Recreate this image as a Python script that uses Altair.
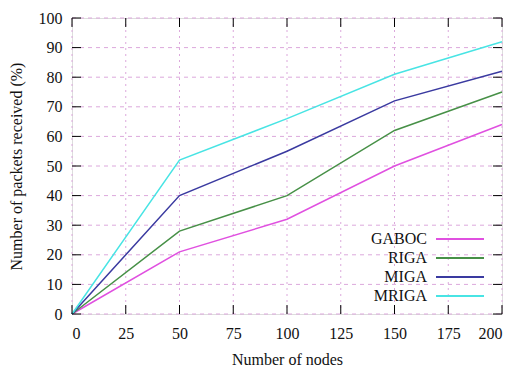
import altair as alt
import pandas as pd

nodes = [0, 50, 100, 150, 200]
gaboc = [0, 21, 32, 50, 64]
riga = [0, 28, 40, 62, 75]
miga = [0, 40, 55, 72, 82]
mriga = [0, 52, 66, 81, 92]
series = ["GABOC", "RIGA", "MIGA", "MRIGA"]
colors = ["#e050e0", "#479047", "#3a3aa0", "#48e4e4"]
x_ticks = [0, 25, 50, 75, 100, 125, 150, 175, 200]
y_ticks = [0, 10, 20, 30, 40, 50, 60, 70, 80, 90, 100]

rows = []
for name, vals in zip(series, [gaboc, riga, miga, mriga]):
    for n, v in zip(nodes, vals):
        rows.append({"nodes": n, "value": v, "series": name})
df = pd.DataFrame(rows)
xt = pd.DataFrame({"nodes": x_ticks})
yt = pd.DataFrame({"value": y_ticks})

FONT = "Liberation Serif"
W, H, TL = 430, 296, 9
color = alt.Color("series:N", scale=alt.Scale(domain=series, range=colors), legend=None)
xscale = alt.Scale(domain=[0, 200], nice=False)
yscale = alt.Scale(domain=[0, 100], nice=False)

txt = dict(labelFont=FONT, labelFontSize=16, labelColor="#111",
           titleFont=FONT, titleFontSize=16, titleFontWeight="normal",
           titleColor="#111", domain=False, ticks=False, grid=False)
x_axis = alt.Axis(orient="bottom", values=x_ticks, title="Number of nodes",
                  labelPadding=11, titlePadding=10, **txt)
y_axis = alt.Axis(orient="left", values=y_ticks,
                  title="Number of packets received (%)",
                  labelPadding=10, titlePadding=14, **txt)
X = alt.X("nodes:Q", scale=xscale, axis=x_axis)
Y = alt.Y("value:Q", scale=yscale, axis=y_axis)

grid_x = alt.Chart(xt).mark_rule(color="#dca8dc", strokeWidth=1, strokeDash=[2, 4]).encode(
    x=X, y=alt.value(0), y2=alt.value(H))
grid_y = alt.Chart(yt).mark_rule(color="#dca8dc", strokeWidth=1, strokeDash=[4, 4]).encode(
    y=Y, x=alt.value(0), x2=alt.value(W))

lines = alt.Chart(df).mark_line(strokeWidth=1.5).encode(x=X, y=Y, color=color)

tick_style = dict(color="#000", strokeWidth=1)
bottom_ticks = alt.Chart(xt).mark_rule(**tick_style).encode(
    x=X, y=alt.value(H - TL), y2=alt.value(H))
top_ticks = alt.Chart(xt).mark_rule(**tick_style).encode(
    x=X, y=alt.value(0), y2=alt.value(TL))
left_ticks = alt.Chart(yt).mark_rule(**tick_style).encode(
    y=Y, x=alt.value(0), x2=alt.value(TL))
right_ticks = alt.Chart(yt).mark_rule(**tick_style).encode(
    y=Y, x=alt.value(W - TL), x2=alt.value(W))

layers = [grid_x, grid_y, lines, bottom_ticks, top_ticks, left_ticks, right_ticks]
for i, name in enumerate(series):
    ypix = 221 + i * 19
    row = pd.DataFrame({"series": [name]})
    layers.append(alt.Chart(row).mark_text(align="right", baseline="middle", font=FONT,
                                           fontSize=16, color="#111").encode(
        x=alt.value(355), y=alt.value(ypix), text="series:N"))
    layers.append(alt.Chart(row).mark_rule(strokeWidth=2).encode(
        x=alt.value(364), x2=alt.value(412), y=alt.value(ypix), color=color))

chart = alt.layer(*layers).properties(
    width=W, height=H,
    autosize=alt.AutoSizeParams(type="none"),
    padding={"left": 64, "top": 10, "right": 5, "bottom": 55},
    background="white",
).configure_view(stroke="#000", strokeWidth=1.5).configure(font=FONT)

chart.save("out.html", embed_options={"renderer": "svg", "actions": False})
